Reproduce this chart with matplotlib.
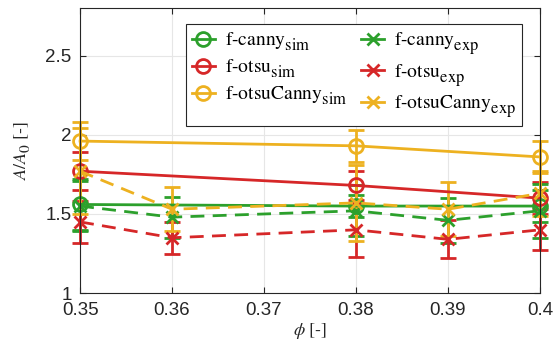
import matplotlib.pyplot as plt
from matplotlib.lines import Line2D
import matplotlib._mathtext as mtext
import numpy as np

plt.rcParams['mathtext.fontset'] = 'stix'
# larger, lower subscripts like the reference legend
mtext.SHRINK_FACTOR = 0.85
mtext.STIXFontConstants.sub1 = 0.6

# data
phi_sim = [0.35, 0.38, 0.40]
phi_exp = [0.35, 0.36, 0.38, 0.39, 0.40]

canny_sim = [1.56, 1.55, 1.55]
canny_sim_err = [0.16, 0.07, 0.10]
otsu_sim = [1.77, 1.68, 1.60]
otsu_sim_err = [0.12, 0.09, 0.10]
oc_sim = [1.96, 1.93, 1.86]
oc_sim_err = [0.12, 0.10, 0.10]

canny_exp = [1.55, 1.48, 1.52, 1.46, 1.52]
canny_exp_err = [0.16, 0.13, 0.16, 0.14, 0.17]
otsu_exp = [1.45, 1.35, 1.40, 1.34, 1.40]
otsu_exp_err = [0.13, 0.10, 0.17, 0.12, 0.13]
oc_exp = [1.77, 1.53, 1.57, 1.53, 1.63]
oc_exp_err = [0.27, 0.14, 0.24, 0.17, 0.14]

green = '#2ca02c'
red = '#d62728'
orange = '#edb120'
dash = (0, (5, 3))

fig = plt.figure(figsize=(5.56, 3.62), dpi=100)
ax = fig.add_axes([0.144, 0.19, 0.827, 0.788])

kw = dict(capsize=6, capthick=2, elinewidth=2, lw=2,
          markerfacecolor='none', markeredgewidth=2, clip_on=False)
series = [
    (phi_sim, canny_sim, canny_sim_err, green, 'o', '-', r'f-canny$_{\mathrm{sim}}$'),
    (phi_sim, otsu_sim, otsu_sim_err, red, 'o', '-', r'f-otsu$_{\mathrm{sim}}$'),
    (phi_sim, oc_sim, oc_sim_err, orange, 'o', '-', r'f-otsuCanny$_{\mathrm{sim}}$'),
    (phi_exp, canny_exp, canny_exp_err, green, 'x', dash, r'f-canny$_{\mathrm{exp}}$'),
    (phi_exp, otsu_exp, otsu_exp_err, red, 'x', dash, r'f-otsu$_{\mathrm{exp}}$'),
    (phi_exp, oc_exp, oc_exp_err, orange, 'x', dash, r'f-otsuCanny$_{\mathrm{exp}}$'),
]
handles = []
for x, y, e, c, m, ls, lab in series:
    ms = 10 if m == 'o' else 8
    ax.errorbar(x, y, yerr=e, color=c, marker=m, ls=ls, markersize=ms, **kw)
    handles.append(Line2D([], [], color=c, marker=m, ls='-', lw=2, markersize=ms,
                          markerfacecolor='none', markeredgewidth=2, label=lab))

ax.set_xlim(0.35, 0.40)
ax.set_ylim(1, 2.8)
ax.set_xticks([0.35, 0.36, 0.37, 0.38, 0.39, 0.40])
ax.set_xticklabels(['0.35', '0.36', '0.37', '0.38', '0.39', '0.4'])
ax.set_yticks([1, 1.5, 2, 2.5])
ax.set_yticklabels(['1', '1.5', '2', '2.5'])
for lab in ax.get_xticklabels() + ax.get_yticklabels():
    lab.set_family('Liberation Sans')
    lab.set_fontsize(13.5)
    lab.set_color('#262626')
ax.tick_params(direction='in', length=4, color='#262626', top=True, right=True, pad=6)
ax.grid(True, color='#e6e6e6', lw=0.8)
ax.set_axisbelow(True)
for s in ax.spines.values():
    s.set_color('#262626')

ax.set_xlabel(r'$\phi$ [-]', family='STIXGeneral', fontsize=13, color='#262626', labelpad=2)
ax.set_ylabel(r'$A/A_0$ [-]', family='STIXGeneral', fontsize=13, color='#262626', labelpad=9)

leg = ax.legend(handles=handles, ncol=2, loc='upper right', bbox_to_anchor=(0.961, 0.944),
                borderaxespad=0,
                prop={'family': 'STIXGeneral', 'size': 14}, fancybox=False,
                edgecolor='#262626', framealpha=1, handlelength=1.2,
                columnspacing=0.7, labelspacing=0.25, borderpad=0.3, handletextpad=0.5)
leg.get_frame().set_linewidth(0.8)

fig.savefig('out.png', dpi=100)
